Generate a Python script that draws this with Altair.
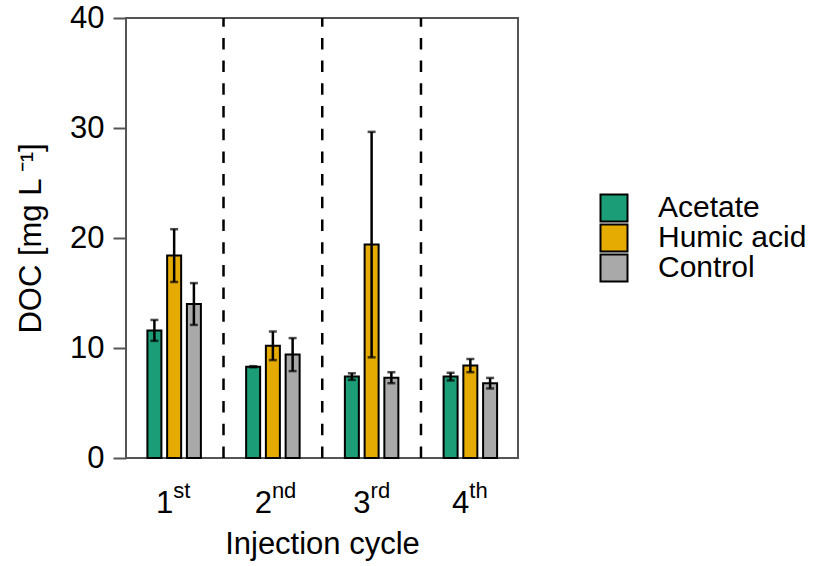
import altair as alt
import pandas as pd

# ---- data ----
cycles = ["1", "2", "3", "4"]
suffixes = ["st", "nd", "rd", "th"]
treatments = ["Acetate", "Humic acid", "Control"]
colors = ["#1B9E77", "#E6AB02", "#A9A9A9"]

acetate_mean = [11.6, 8.3, 7.4, 7.4]
acetate_sd = [0.95, 0.05, 0.3, 0.35]
humic_mean = [18.4, 10.2, 19.4, 8.4]
humic_sd = [2.4, 1.3, 10.25, 0.6]
control_mean = [14.0, 9.4, 7.3, 6.8]
control_sd = [1.9, 1.5, 0.5, 0.48]

y_ticks = [0, 10, 20, 30, 40]

means = [acetate_mean, humic_mean, control_mean]
sds = [acetate_sd, humic_sd, control_sd]

rows = []
for gi, c in enumerate(cycles):
    for si, t in enumerate(treatments):
        rows.append({"cycle": c, "gi": gi, "si": si, "treatment": t,
                     "mean": means[si][gi], "sd": sds[si][gi]})
df = pd.DataFrame(rows)
labels_df = pd.DataFrame({"cycle": cycles, "suffix": suffixes, "gi": list(range(len(cycles)))})
sep_df = labels_df[labels_df["gi"] > 0]

FONT = "Liberation Sans"
xscale = alt.Scale(domain=[-1.185, 18.16], nice=False, zero=False)
yscale = alt.Scale(domain=[0, 40], nice=False)

xaxis = alt.Axis(labels=False, ticks=False, domain=False, grid=False,
                 title="Injection cycle", titleFontSize=31,
                 titleFontWeight="normal", titleFont=FONT,
                 titleBaseline="alphabetic", titleY=95, titleColor="black")
yaxis = alt.Axis(values=y_ticks, grid=False, domain=False,
                 tickSize=13, tickWidth=2, tickColor="#555555",
                 labelFontSize=31, labelFont=FONT, labelColor="black",
                 labelPadding=9,
                 title="DOC [mg L\u2009\u207b\u00b9]", titleFontSize=31,
                 titleFont=FONT, titleFontWeight="normal", titleColor="black",
                 titleAngle=270, titleX=-86, titleY=220,
                 titleAlign="center", titleBaseline="alphabetic")


def X():
    return alt.X("slot:Q", scale=xscale, axis=xaxis)


base = alt.Chart(df).transform_calculate(
    slot="datum.gi * 5 + datum.si",
    lo="datum.mean - datum.sd",
    hi="datum.mean + datum.sd",
)

bars = base.mark_bar(size=14, stroke="black", strokeWidth=2).encode(
    x=X(),
    y=alt.Y("mean:Q", scale=yscale, axis=yaxis),
    color=alt.Color("treatment:N",
                    scale=alt.Scale(domain=treatments, range=colors),
                    legend=alt.Legend(title=None, orient="none", legendX=473, legendY=175,
                                      symbolType="square", symbolSize=729,
                                      symbolStrokeColor="black", symbolStrokeWidth=2,
                                      labelFontSize=30, labelFont=FONT, labelColor="black",
                                      labelOffset=29, rowPadding=0, padding=0,
                                      clipHeight=30)),
)

err = base.mark_rule(color="black", strokeWidth=2.5).encode(
    x=X(),
    y=alt.Y("lo:Q", scale=yscale, axis=yaxis),
    y2="hi:Q",
)
cap_hi = base.mark_tick(orient="horizontal", size=8, thickness=2.5, color="black").encode(
    x=X(),
    y=alt.Y("hi:Q", scale=yscale, axis=yaxis),
)
cap_lo = base.mark_tick(orient="horizontal", size=8, thickness=2.5, color="black").encode(
    x=X(),
    y=alt.Y("lo:Q", scale=yscale, axis=yaxis),
)

seps = alt.Chart(sep_df).transform_calculate(
    slot="datum.gi * 5 - 1.5"
).mark_rule(color="black", strokeWidth=2.5, strokeDash=[11.5, 11.2]).encode(
    x=X(),
    y=alt.value(440),
    y2=alt.value(0),
)

lab_base = alt.Chart(labels_df).transform_calculate(slot="datum.gi * 5 + 1")
digits = lab_base.mark_text(align="right", baseline="alphabetic", fontSize=31,
                            font=FONT, color="black", dx=-1).encode(
    x=X(),
    y=alt.value(495),
    text="cycle:N",
)
sups = lab_base.mark_text(align="left", baseline="alphabetic", fontSize=22,
                          font=FONT, color="black", dx=-1).encode(
    x=X(),
    y=alt.value(480),
    text="suffix:N",
)

chart = alt.layer(bars, err, cap_hi, cap_lo, seps, digits, sups).properties(
    width=392, height=440,
    padding={"left": 126, "top": 18, "right": 299, "bottom": 108},
    autosize=alt.AutoSizeParams(type="none"),
    background="white",
).configure(
    font=FONT,
    view=alt.ViewConfig(stroke="#555555", strokeWidth=2),
)

chart.save("out.html", embed_options={"renderer": "svg", "actions": False})
